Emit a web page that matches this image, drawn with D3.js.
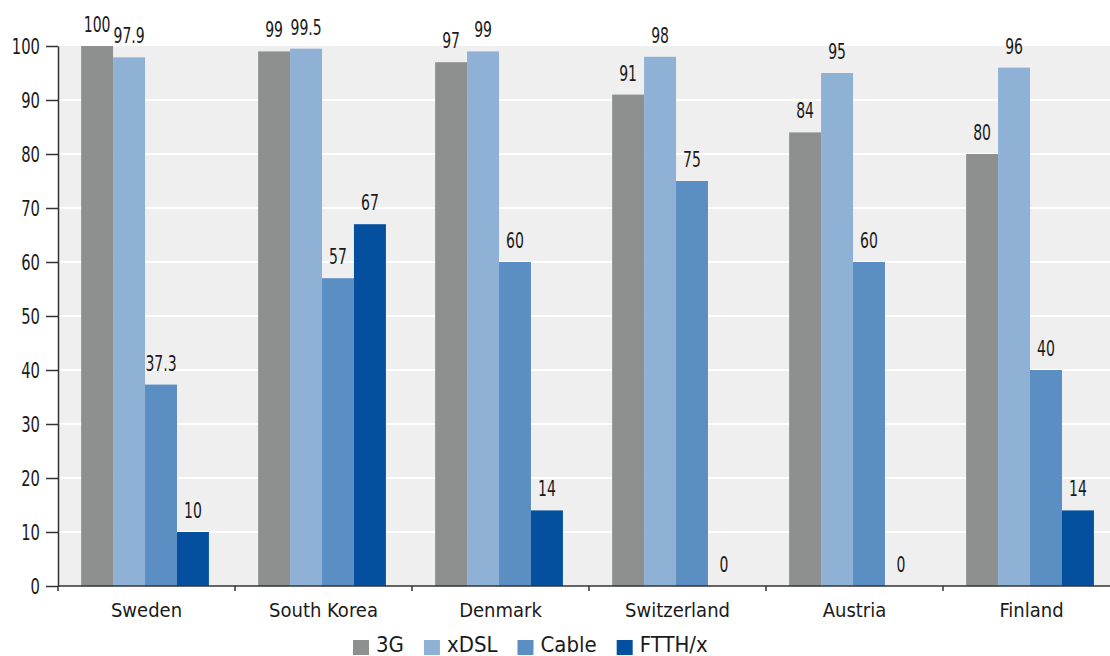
<!DOCTYPE html>
<html>
<head>
<meta charset="utf-8">
<script src="https://cdn.jsdelivr.net/npm/d3@7"></script>
<style>
  html, body { margin: 0; padding: 0; background: #ffffff; }
  svg { display: block; }
  text { font-family: "DejaVu Sans Condensed", "DejaVu Sans", sans-serif; font-stretch: condensed; fill: #1a1a1a; }
</style>
</head>
<body>
<svg id="chart" width="1110" height="656"></svg>
<script>
// Broadband coverage (%) by technology and country
const countries = ["Sweden", "South Korea", "Denmark", "Switzerland", "Austria", "Finland"];
const seriesNames = ["3G", "xDSL", "Cable", "FTTH/x"];
const values3G    = [100, 99, 97, 91, 84, 80];
const valuesXDSL  = [97.9, 99.5, 99, 98, 95, 96];
const valuesCable = [37.3, 57, 60, 75, 60, 40];
const valuesFTTH  = [10, 67, 14, 0, 0, 14];
const yTicks = [0, 10, 20, 30, 40, 50, 60, 70, 80, 90, 100];
const colors = ["#8e908f", "#8fb1d6", "#5b8ec3", "#05509e"];

const seriesValues = [values3G, valuesXDSL, valuesCable, valuesFTTH];
const rows = countries.map((c, i) => ({
  country: c,
  items: seriesNames.map((s, j) => ({ series: s, value: seriesValues[j][i] }))
}));

const svg = d3.select("#chart");
const plotLeft = 58, plotRight = 1120, plotTop = 46, plotBottom = 586;

const x0 = d3.scaleBand().domain(countries).range([plotLeft, plotRight]).padding(0);
const x1 = d3.scaleBand().domain(seriesNames)
  .range([0, x0.bandwidth()]).paddingInner(0).paddingOuter(0.77).align(0.47);
const y = d3.scaleLinear().domain([0, 100]).range([plotBottom, plotTop]);
const color = d3.scaleOrdinal().domain(seriesNames).range(colors);

// squeeze numeric labels horizontally for a narrow numeral look
function narrow(sel, sx) {
  sel.each(function () {
    const t = d3.select(this);
    const x = +t.attr("x") || 0, yy = +t.attr("y") || 0;
    t.attr("x", 0).attr("y", 0).attr("transform", `translate(${x},${yy}) scale(${sx},1)`);
  });
}

// plot background
svg.append("rect")
  .attr("x", plotLeft).attr("y", y(100))
  .attr("width", plotRight - plotLeft).attr("height", y(0) - y(100))
  .attr("fill", "#efefef");

// horizontal gridlines
svg.append("g").selectAll("line")
  .data(yTicks.filter(t => t > 0 && t < 100))
  .join("line")
  .attr("x1", plotLeft).attr("x2", plotRight)
  .attr("y1", d => y(d)).attr("y2", d => y(d))
  .attr("stroke", "#ffffff").attr("stroke-width", 2);

// bars
const groups = svg.append("g").selectAll("g")
  .data(rows).join("g")
  .attr("transform", d => `translate(${x0(d.country)},0)`);

groups.selectAll("rect")
  .data(d => d.items).join("rect")
  .attr("x", d => x1(d.series))
  .attr("y", d => y(d.value))
  .attr("width", x1.bandwidth())
  .attr("height", d => y(0) - y(d.value))
  .attr("fill", d => color(d.series));

// value labels
groups.selectAll("text")
  .data(d => d.items).join("text")
  .attr("x", d => x1(d.series) + x1.bandwidth() / 2)
  .attr("y", d => y(d.value) - 14)
  .attr("text-anchor", "middle")
  .attr("font-size", 20.5)
  .text(d => d.value)
  .call(narrow, 0.76);

// y axis
const yAxis = svg.append("g")
  .attr("transform", `translate(${plotLeft},0)`)
  .call(d3.axisLeft(y).tickValues(yTicks).tickSize(12).tickPadding(6).tickSizeOuter(0));
yAxis.attr("font-family", null).attr("font-size", null);
yAxis.select(".domain").attr("stroke", "#333").attr("stroke-width", 1.5);
yAxis.selectAll(".tick line").attr("stroke", "#333").attr("stroke-width", 1.5);
yAxis.selectAll(".tick text")
  .attr("font-size", 20.5).attr("fill", "#1a1a1a")
  .attr("dy", "0.36em")
  .call(narrow, 0.8);

// x axis: ticks at category boundaries
const xAxis = svg.append("g").attr("transform", `translate(0,${plotBottom})`);
xAxis.append("line")
  .attr("x1", plotLeft).attr("x2", plotRight)
  .attr("stroke", "#333").attr("stroke-width", 1.5);
xAxis.selectAll("line.bound")
  .data(countries).join("line")
  .attr("class", "bound")
  .attr("x1", d => x0(d)).attr("x2", d => x0(d))
  .attr("y1", 0).attr("y2", 5)
  .attr("stroke", "#333").attr("stroke-width", 1.5);
xAxis.selectAll("text")
  .data(countries).join("text")
  .attr("x", d => x0(d) + x0.bandwidth() / 2)
  .attr("y", 31)
  .attr("text-anchor", "middle")
  .attr("font-size", 20)
  .text(d => d);

// legend
const legend = svg.append("g").attr("transform", "translate(353,0)");
let lx = 0;
seriesNames.forEach(s => {
  const g = legend.append("g").attr("transform", `translate(${lx},0)`);
  g.append("rect").attr("x", 0).attr("y", 640).attr("width", 16).attr("height", 15)
    .attr("fill", color(s));
  const t = g.append("text").attr("x", 23).attr("y", 652)
    .attr("font-size", 22).text(s);
  lx += 23 + t.node().getComputedTextLength() + 20;
});
</script>
</body>
</html>
